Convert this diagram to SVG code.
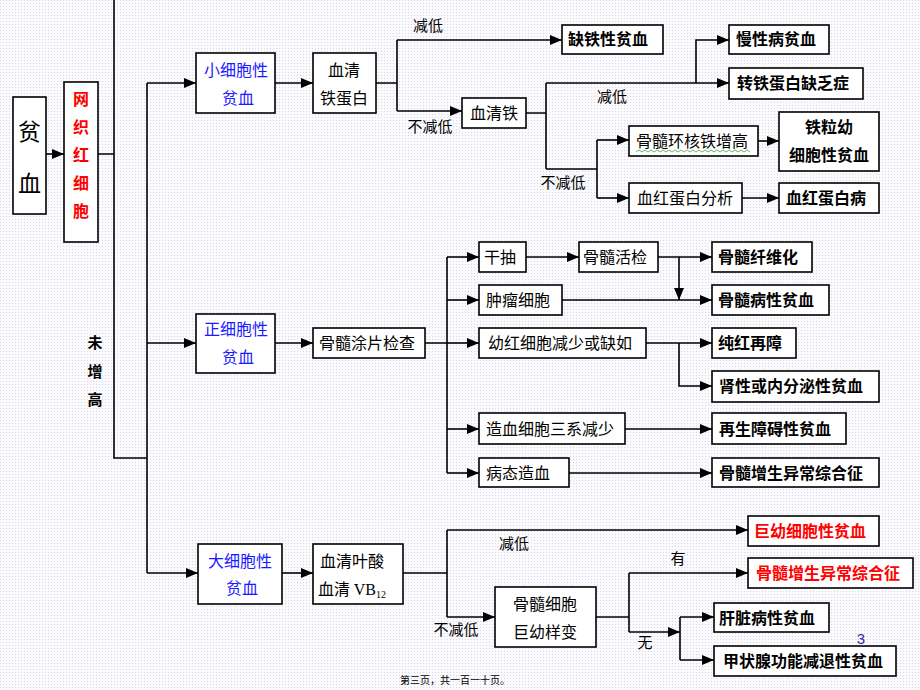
<svg xmlns="http://www.w3.org/2000/svg" width="920" height="690" viewBox="0 0 920 690">
<defs>
<pattern id="dots" width="3" height="3" patternUnits="userSpaceOnUse"><rect width="3" height="3" fill="#fbfbfd"/><rect width="1" height="1" fill="#d6d6e6"/></pattern>
<marker id="ah" markerUnits="userSpaceOnUse" markerWidth="12" markerHeight="10" refX="12" refY="5" orient="auto"><path d="M0,0 L12,5 L0,10 z" fill="#000"/></marker>
<style>
.box{fill:#fff;stroke:#000;stroke-width:1.6}
.c{fill:none;stroke:#000;stroke-width:1.6}
text{font-family:"Noto Sans CJK SC","Liberation Sans",sans-serif;font-size:16px;text-anchor:middle;fill:#000}
.b{font-weight:bold}
.blue{fill:#1a1aff}
.red{fill:#ff0000;font-weight:bold}
.lbl{font-size:15px}
</style>
</defs>
<rect width="920" height="690" fill="url(#dots)"/>

<g id="connectors">
<path class="c" d="M46,154 H64" marker-end="url(#ah)"/>
<path class="c" d="M98,154 H114 M114,0 V458 H147 M147,83 V573"/>
<path class="c" d="M147,83 H196" marker-end="url(#ah)"/>
<path class="c" d="M147,343 H196" marker-end="url(#ah)"/>
<path class="c" d="M147,573 H198" marker-end="url(#ah)"/>
<path class="c" d="M275,83 H313" marker-end="url(#ah)"/>
<path class="c" d="M376,83 H397 M397,40 V111"/>
<path class="c" d="M397,40 H562" marker-end="url(#ah)"/>
<path class="c" d="M397,111 H462" marker-end="url(#ah)"/>
<path class="c" d="M526,113 H546 M546,83 V169"/>
<path class="c" d="M546,83 H729" marker-end="url(#ah)"/>
<path class="c" d="M696,83 V40 H729" marker-end="url(#ah)"/>
<path class="c" d="M546,169 H597 M597,140 V198"/>
<path class="c" d="M597,140 H629" marker-end="url(#ah)"/>
<path class="c" d="M597,198 H629" marker-end="url(#ah)"/>
<path class="c" d="M758,141 H779" marker-end="url(#ah)"/>
<path class="c" d="M742,198 H779" marker-end="url(#ah)"/>
<path class="c" d="M275,343 H313" marker-end="url(#ah)"/>
<path class="c" d="M425,343 H447 M447,257 V473"/>
<path class="c" d="M447,257 H479" marker-end="url(#ah)"/>
<path class="c" d="M447,300 H479" marker-end="url(#ah)"/>
<path class="c" d="M447,343 H479" marker-end="url(#ah)"/>
<path class="c" d="M447,429 H479" marker-end="url(#ah)"/>
<path class="c" d="M447,473 H479" marker-end="url(#ah)"/>
<path class="c" d="M526,257 H579" marker-end="url(#ah)"/>
<path class="c" d="M658,257 H712" marker-end="url(#ah)"/>
<path class="c" d="M679,257 V300" marker-end="url(#ah)"/>
<path class="c" d="M562,300 H712" marker-end="url(#ah)"/>
<path class="c" d="M646,343 H712" marker-end="url(#ah)"/>
<path class="c" d="M679,343 V386 H712" marker-end="url(#ah)"/>
<path class="c" d="M625,429 H712" marker-end="url(#ah)"/>
<path class="c" d="M569,473 H712" marker-end="url(#ah)"/>
<path class="c" d="M282,573 H313" marker-end="url(#ah)"/>
<path class="c" d="M403,573 H447 M447,530 V617"/>
<path class="c" d="M447,530 H748" marker-end="url(#ah)"/>
<path class="c" d="M447,617 H495" marker-end="url(#ah)"/>
<path class="c" d="M596,617 H629 M629,573 V632"/>
<path class="c" d="M629,573 H748" marker-end="url(#ah)"/>
<path class="c" d="M629,632 H680" marker-end="url(#ah)"/>
<path class="c" d="M680,617 V660"/>
<path class="c" d="M680,617 H714" marker-end="url(#ah)"/>
<path class="c" d="M680,660 H714" marker-end="url(#ah)"/>
</g>

<g id="labels">
<text class="lbl" x="428" y="31">减低</text>
<text class="lbl" x="430" y="132">不减低</text>
<text class="lbl" x="612" y="102">减低</text>
<text class="lbl" x="563" y="188">不减低</text>
<text class="lbl" x="514" y="549">减低</text>
<text class="lbl" x="456" y="635">不减低</text>
<text class="lbl" x="678" y="564">有</text>
<text class="lbl" x="645" y="648">无</text>
<text class="b lbl" x="95" y="348">未</text>
<text class="b lbl" x="95" y="377">增</text>
<text class="b lbl" x="95" y="405">高</text>
</g>

<g id="n-pinxue"><rect class="box" x="13" y="97" width="33" height="117"/><text x="29.5" y="140" style="font-size:23px">贫</text><text x="29.5" y="192" style="font-size:23px">血</text></g>
<g id="n-wangzhi"><rect class="box" x="64" y="82" width="34" height="160"/>
<text class="red" x="81" y="105">网</text><text class="red" x="81" y="133">织</text><text class="red" x="81" y="161">红</text><text class="red" x="81" y="189">细</text><text class="red" x="81" y="217">胞</text></g>

<g id="n-small"><rect class="box" x="196" y="53" width="79" height="60"/><text class="blue" x="236" y="76">小细胞性</text><text class="blue" x="238" y="104">贫血</text></g>
<g id="n-normal"><rect class="box" x="196" y="314" width="79" height="59"/><text class="blue" x="236" y="335">正细胞性</text><text class="blue" x="238" y="363">贫血</text></g>
<g id="n-large"><rect class="box" x="198" y="544" width="84" height="60"/><text class="blue" x="240" y="567">大细胞性</text><text class="blue" x="242" y="594">贫血</text></g>

<g id="n-tf"><rect class="box" x="313" y="53" width="63" height="60"/><text x="344" y="76">血清</text><text x="344" y="104">铁蛋白</text></g>
<g id="n-quetie"><rect class="box" x="562" y="25" width="101" height="29"/><text class="b" x="608" y="45">缺铁性贫血</text></g>
<g id="n-serumfe"><rect class="box" x="462" y="98" width="64" height="30"/><text x="494" y="119">血清铁</text></g>
<g id="n-manxing"><rect class="box" x="729" y="25" width="100" height="29"/><text class="b" x="776" y="45">慢性病贫血</text></g>
<g id="n-zhuantie"><rect class="box" x="729" y="68" width="134" height="31"/><text class="b" x="793" y="89">转铁蛋白缺乏症</text></g>
<g id="n-huanhe"><rect class="box" x="629" y="126" width="129" height="30"/><text x="692" y="147">骨髓环核铁增高</text>
<path d="M636,152 l3,-2 l3,2 l3,-2 l3,2 l3,-2 l3,2 l3,-2 l3,2 l3,-2 l3,2 l3,-2 l3,2 l3,-2 l3,2 l3,-2 l3,2 l3,-2 l3,2 l3,-2 l3,2 l3,-2 l3,2 l3,-2 l3,2 l3,-2 l3,2 l3,-2 l3,2 l3,-2 l3,2 l3,-2 l3,2 l3,-2 l3,2 l3,-2 l3,2 l3,-2 l3,2" fill="none" stroke="#3a3" stroke-width="0.8"/></g>
<g id="n-xhdb"><rect class="box" x="629" y="183" width="113" height="30"/><text x="685" y="204">血红蛋白分析</text></g>
<g id="n-tieli"><rect class="box" x="779" y="112" width="100" height="59"/><text class="b" x="829" y="133">铁粒幼</text><text class="b" x="829" y="161">细胞性贫血</text></g>
<g id="n-xhdbb"><rect class="box" x="779" y="183" width="100" height="30"/><text class="b" x="826" y="204">血红蛋白病</text></g>

<g id="n-gjtp"><rect class="box" x="313" y="328" width="112" height="30"/><text x="367" y="349">骨髓涂片检查</text></g>
<g id="n-ganchou"><rect class="box" x="479" y="242" width="47" height="30"/><text x="500" y="263">干抽</text></g>
<g id="n-zhongliu"><rect class="box" x="479" y="285" width="83" height="30"/><text x="518" y="306">肿瘤细胞</text></g>
<g id="n-youhong"><rect class="box" x="479" y="328" width="167" height="30"/><text x="560" y="349">幼红细胞减少或缺如</text></g>
<g id="n-zaoxue"><rect class="box" x="479" y="413" width="146" height="31"/><text x="550" y="435">造血细胞三系减少</text></g>
<g id="n-bingtai"><rect class="box" x="479" y="458" width="90" height="29"/><text x="518" y="479">病态造血</text></g>
<g id="n-huojian"><rect class="box" x="579" y="242" width="79" height="30"/><text x="615" y="263">骨髓活检</text></g>
<g id="n-xianwei"><rect class="box" x="712" y="242" width="100" height="30"/><text class="b" x="758" y="263">骨髓纤维化</text></g>
<g id="n-gsbx"><rect class="box" x="712" y="285" width="117" height="30"/><text class="b" x="766" y="306">骨髓病性贫血</text></g>
<g id="n-chunhong"><rect class="box" x="712" y="328" width="84" height="30"/><text class="b" x="750" y="349">纯红再障</text></g>
<g id="n-shenxing"><rect class="box" x="712" y="371" width="167" height="31"/><text class="b" x="791" y="392">肾性或内分泌性贫血</text></g>
<g id="n-zaisheng"><rect class="box" x="712" y="413" width="134" height="31"/><text class="b" x="775" y="435">再生障碍性贫血</text></g>
<g id="n-mds1"><rect class="box" x="712" y="458" width="167" height="29"/><text class="b" x="791" y="479">骨髓增生异常综合征</text></g>

<g id="n-yesuan"><rect class="box" x="313" y="544" width="90" height="60"/><text x="352" y="567">血清叶酸</text><text x="352" y="595">血清 <tspan style="font-family:'Liberation Serif',serif">VB</tspan><tspan style="font-family:'Liberation Serif',serif;font-size:10px" dy="3">12</tspan></text></g>
<g id="n-guxi"><rect class="box" x="495" y="587" width="101" height="60"/><text x="545" y="610">骨髓细胞</text><text x="545" y="638">巨幼样变</text></g>
<g id="n-juyou"><rect class="box" x="748" y="516" width="131" height="30"/><text class="red" x="810" y="537">巨幼细胞性贫血</text></g>
<g id="n-mds2"><rect class="box" x="748" y="558" width="165" height="30"/><text class="red" x="828" y="579">骨髓增生异常综合征</text></g>
<g id="n-ganzang"><rect class="box" x="714" y="603" width="115" height="29"/><text class="b" x="767" y="624">肝脏病性贫血</text></g>
<g id="n-jiazhuang"><rect class="box" x="714" y="646" width="182" height="30"/><text class="b" x="803" y="667">甲状腺功能减退性贫血</text></g>

<text x="861" y="644" style="font-family:'Liberation Sans',sans-serif;font-size:15px;fill:#2a2aa8">3</text>
<text x="455" y="684" style="font-size:10px">第三页，共一百一十页。</text>
</svg>
